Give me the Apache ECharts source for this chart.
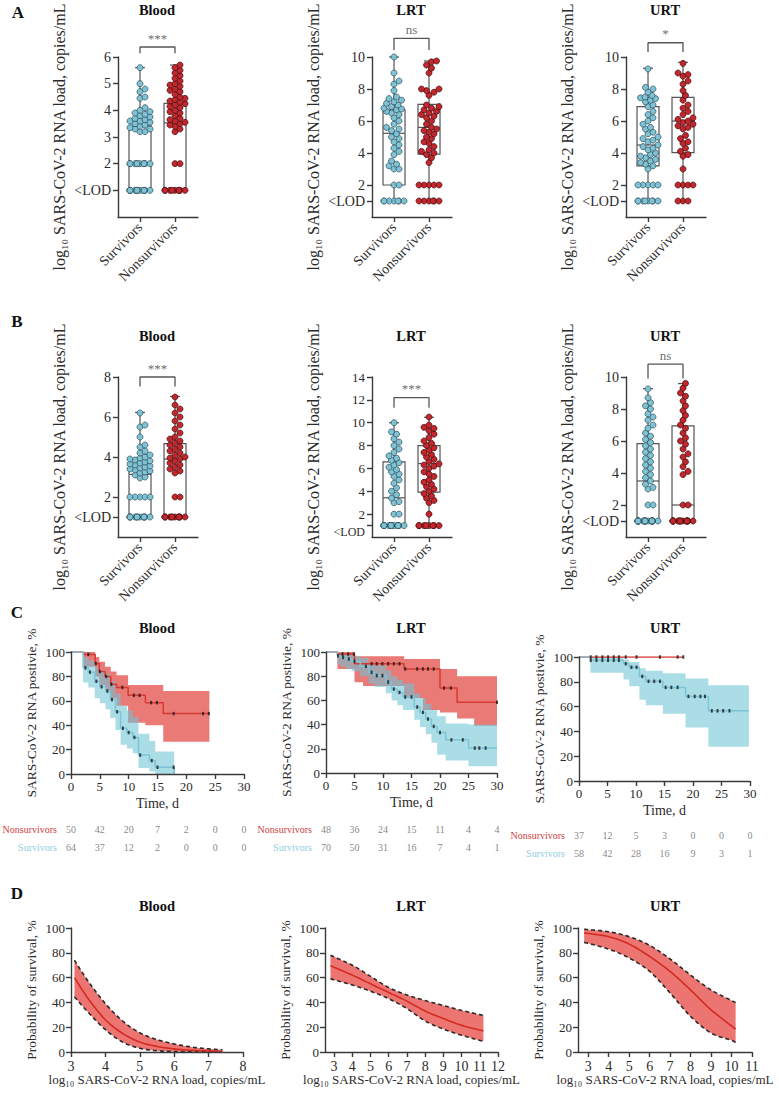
<!DOCTYPE html>
<html>
<head>
<meta charset="UTF-8">
<title>SARS-CoV-2 RNA load and survival</title>
<script src="https://cdn.jsdelivr.net/npm/echarts@6/dist/echarts.min.js"></script>
<style type="text/css">
body{margin:0;padding:0;background:#fff;}
#main{width:779px;height:1095px;}
</style>
</head>
<body>
<div id="main"></div>
<script type="text/javascript">
// ---------- data ----------
var groups = ['Survivors', 'Nonsurvivors'];

// panel A, first sample (log10 load, 1 = <LOD)
var aBloodSurv = [5.6, 5.0, 4.8, 4.7, 4.5, 4.45, 4.1, 4.0, 3.95, 3.9, 3.85, 3.8, 3.75, 3.7, 3.65, 3.6, 3.6, 3.55, 3.5, 3.45, 3.4, 3.35, 3.3, 3.3, 3.2, 3.2, 2, 2, 2, 2, 2, 2, 2, 2, 2, 2, 1, 1, 1, 1, 1, 1, 1, 1, 1, 1, 1, 1, 1, 1];
var aBloodNon = [5.7, 5.6, 5.5, 5.4, 5.3, 5.2, 5.1, 5.0, 4.95, 4.9, 4.8, 4.75, 4.7, 4.6, 4.5, 4.45, 4.4, 4.35, 4.3, 4.25, 4.2, 4.15, 4.1, 4.0, 3.95, 3.9, 3.8, 3.7, 3.65, 3.6, 3.55, 3.5, 3.45, 3.4, 3.3, 3.2, 2, 2, 1, 1, 1, 1, 1, 1, 1, 1, 1];
var aLrtSurv = [10, 9, 8.5, 8.3, 7.9, 7.5, 7.4, 7.3, 7.2, 7.1, 7.0, 6.9, 6.8, 6.75, 6.7, 6.6, 6.5, 6.4, 6.2, 6.0, 5.8, 5.6, 5.5, 5.4, 5.2, 5.0, 4.9, 4.7, 4.5, 4.3, 4.1, 3.9, 3.5, 3.3, 3.2, 3.0, 3.0, 2, 2, 1, 1, 1, 1, 1, 1, 1];
var aLrtNon = [9.75, 9.7, 9.5, 9.3, 9.0, 8.0, 8.0, 7.9, 7.8, 7.6, 7.0, 6.9, 6.8, 6.7, 6.6, 6.5, 6.4, 6.3, 6.2, 6.0, 5.8, 5.6, 5.5, 5.4, 5.3, 5.2, 5.0, 4.9, 4.7, 4.6, 4.4, 4.2, 4.1, 4.0, 3.9, 3.7, 3.4, 2, 2, 2, 2, 2, 1, 1, 1, 1, 1, 1];
var aUrtSurv = [9.25, 8.1, 8.0, 7.8, 7.6, 7.5, 7.45, 7.4, 7.3, 7.2, 7.0, 6.9, 6.6, 6.4, 6.2, 6.0, 5.8, 5.6, 5.5, 5.3, 5.2, 5.0, 4.9, 4.8, 4.7, 4.5, 4.4, 4.3, 4.2, 4.0, 3.9, 3.8, 3.7, 3.6, 3.5, 3.4, 3.3, 3.2, 3.0, 2, 2, 2, 2, 2, 1, 1, 1, 1, 1, 1, 1, 1];
var aUrtNon = [9.6, 9.0, 8.9, 8.8, 8.5, 8.3, 7.9, 7.6, 7.3, 7.0, 6.8, 6.6, 6.4, 6.2, 6.1, 6.0, 5.9, 5.8, 5.7, 5.6, 5.5, 5.1, 4.9, 4.7, 4.6, 4.3, 4.1, 3.9, 3.8, 3.0, 2, 2, 2, 2, 1, 1, 1];
// box stats: min, q1, median, q3, max
var aBloodBoxSurv = [1, 1, 2, 3.42, 5.6], aBloodBoxNon = [1, 1, 3.53, 4.26, 5.7];
var aLrtBoxSurv = [1, 2, 5.23, 6.7, 10], aLrtBoxNon = [1, 3.93, 5.6, 7.04, 9.75];
var aUrtBoxSurv = [1, 3.19, 4.5, 6.9, 9.3], aUrtBoxNon = [1, 4.02, 6.0, 7.48, 9.67];

// panel B, peak load
var bBloodSurv = [6.2, 5.6, 5.5, 5.0, 4.6, 4.5, 4.3, 4.2, 4.1, 4.0, 3.95, 3.9, 3.85, 3.8, 3.75, 3.7, 3.65, 3.6, 3.55, 3.5, 3.45, 3.4, 3.35, 3.3, 3.25, 3.2, 3.1, 3.0, 2.95, 2, 2, 2, 2, 2, 1, 1, 1, 1, 1, 1, 1, 1, 1, 1, 1, 1, 1, 1];
var bBloodNon = [7.0, 6.6, 6.4, 6.2, 6.0, 5.8, 5.6, 5.4, 5.2, 5.0, 4.9, 4.8, 4.7, 4.6, 4.5, 4.4, 4.3, 4.2, 4.1, 4.0, 3.95, 3.9, 3.8, 3.7, 3.6, 3.5, 3.4, 3.3, 3.2, 2, 2, 1, 1, 1, 1, 1, 1, 1, 1, 1, 1, 1, 1];
var bLrtSurv = [10, 9.2, 9.0, 8.6, 8.3, 8.0, 7.7, 7.4, 7.1, 6.9, 6.7, 6.5, 6.3, 6.1, 5.9, 5.7, 5.5, 5.3, 5.0, 4.7, 4.3, 4.0, 3.7, 3.4, 3.1, 3.0, 2, 2, 1, 1, 1, 1, 1, 1, 1, 1, 1, 1, 1, 1, 1, 1, 1, 1, 1, 1, 1, 1];
var bLrtNon = [10.5, 9.8, 9.6, 9.5, 9.3, 9.0, 8.7, 8.4, 8.2, 8.0, 7.8, 7.6, 7.4, 7.2, 7.0, 6.8, 6.6, 6.4, 6.3, 6.2, 6.0, 5.7, 5.5, 5.3, 5.0, 4.8, 4.6, 4.4, 4.2, 4.0, 3.8, 3.6, 3.4, 3.2, 3.0, 2, 1, 1, 1, 1, 1, 1, 1, 1];
var bUrtSurv = [9.25, 8.7, 8.4, 8.2, 8.0, 7.7, 7.5, 7.3, 7.0, 6.8, 6.5, 6.3, 6.1, 5.9, 5.7, 5.5, 5.3, 5.1, 4.9, 4.7, 4.5, 4.3, 4.1, 3.9, 3.7, 3.5, 3.3, 3.1, 3.0, 2, 2, 1, 1, 1, 1, 1, 1, 1, 1, 1, 1, 1, 1, 1, 1, 1, 1, 1, 1, 1, 1, 1, 1, 1, 1, 1];
var bUrtNon = [9.6, 9.3, 9.0, 8.8, 8.5, 8.2, 7.9, 7.6, 7.3, 7.0, 6.8, 6.5, 6.2, 6.0, 5.8, 5.5, 5.2, 5.0, 4.7, 4.4, 4.1, 3.9, 2, 2, 1, 1, 1, 1, 1, 1, 1, 1, 1, 1, 1, 1, 1, 1, 1, 1, 1, 1];
var bBloodBoxSurv = [1, 1, 3.13, 3.67, 6.23], bBloodBoxNon = [1, 1, 3.9, 4.67, 7.03];
var bLrtBoxSurv = [1, 1, 3.43, 6.58, 10], bLrtBoxNon = [1, 3.92, 6.43, 8.0, 10.47];
var bUrtBoxSurv = [1, 1, 3.5, 5.84, 9.27], bUrtBoxNon = [1, 1, 2.0, 6.94, 9.59];

// panel C, Kaplan-Meier (step start times, % positive, CI steps, censor times)
var cBloodNonT = [0, 2.2, 4.2, 4.9, 5.9, 6.9, 7.9, 9.9, 12.9, 16.0];
var cBloodNonS = [100, 98, 90.5, 84, 80, 73.5, 71, 64.5, 58.5, 49.5];
var cBloodNonBandT = [2.2, 4.2, 4.9, 5.9, 6.9, 7.9, 9.9, 12.9, 16.0];
var cBloodNonHi = [100, 96, 92, 88, 84, 81, 73, 73, 68];
var cBloodNonLo = [88, 80, 73, 68, 62, 56, 42, 40, 26.5];
var cBloodNonCens = [3.0, 4.3, 5.0, 6.1, 7.0, 8.9, 10.9, 11.9, 13.9, 14.9, 17.8, 22.9, 23.9];
var cBloodSurvT = [0, 2.1, 3.0, 4.1, 5.0, 6.0, 6.8, 7.7, 8.6, 9.7, 10.7, 11.7, 13.6, 14.6, 17.9];
var cBloodSurvS = [100, 87, 83.5, 76, 71.5, 68, 61, 51, 37.5, 34, 30, 15.5, 11, 5.5, 0];
var cBloodSurvBandT = [2.1, 3.0, 4.1, 5.0, 6.0, 6.8, 7.7, 8.6, 9.7, 10.7, 11.7, 13.6, 14.6];
var cBloodSurvHi = [96, 93, 88, 85, 82, 76, 66, 56, 52, 47, 33, 27, 18.5];
var cBloodSurvLo = [75, 71, 62, 58, 53, 46, 36, 24, 21, 17, 5, 2, 0];
var cBloodSurvCens = [2.5, 3.3, 4.4, 5.3, 6.3, 7.1, 8.0, 9.0, 10.0, 11.0, 12.0, 14.0, 15.0, 17.8];

var cLrtNonT = [0, 2.0, 5.0, 13.7, 20.0, 23.0];
var cLrtNonS = [100, 98.3, 90.3, 86, 70.2, 58.4];
var cLrtNonBandT = [2.0, 5.0, 6.5, 13.7, 17.0, 20.0, 23.0, 26.0];
var cLrtNonHi = [100, 96.4, 96.4, 94.2, 94.2, 86, 80, 80];
var cLrtNonLo = [86, 75, 72, 62, 52, 50, 45, 39];
var cLrtNonCens = [2.9, 3.9, 4.9, 8.0, 8.9, 9.9, 10.9, 11.9, 12.9, 13.9, 16.0, 17.0, 17.9, 18.9, 20.7, 21.9, 30];
var cLrtSurvT = [0, 2.0, 2.5, 3.5, 4.5, 6.0, 7.5, 8.5, 10.5, 11.5, 12.5, 13.5, 15.5, 16.5, 17.5, 18.5, 19.5, 21.0, 25.0];
var cLrtSurvS = [100, 96.9, 95.6, 94.2, 92.3, 88.2, 83.2, 80.5, 75.2, 69.4, 66.6, 62.8, 54.5, 50.1, 44.6, 38.5, 33.5, 27.4, 20.6];
var cLrtSurvBandT = [2.0, 2.5, 3.5, 4.5, 6.0, 7.5, 8.5, 10.5, 11.5, 12.5, 13.5, 15.5, 16.5, 17.5, 18.5, 19.5, 21.0, 25.0];
var cLrtSurvHi = [99, 99, 98, 97, 95, 91, 89, 85, 80, 77, 74, 66, 62, 57, 52, 47, 41, 40];
var cLrtSurvLo = [90, 88, 86, 84, 80, 74, 71, 66, 60, 56, 52, 44, 38, 32, 25, 15, 10.4, 5.5];
var cLrtSurvCens = [2.1, 3.0, 4.0, 5.0, 7.0, 8.0, 8.9, 9.9, 10.9, 11.9, 12.9, 13.9, 15.0, 16.0, 17.0, 17.9, 18.9, 20.0, 22.0, 24.0, 26.1, 26.9, 28.0];

var cUrtNonT = [0];
var cUrtNonS = [100];
var cUrtNonCens = [2.06, 3.06, 4.1, 5.1, 6.1, 7.0, 8.2, 10.1, 14.2, 17.3, 18.3];
var cUrtSurvT = [0, 2.0, 7.8, 8.8, 10.6, 11.7, 14.7, 18.7, 22.7];
var cUrtSurvS = [100, 97.3, 94.6, 91.7, 84.4, 80.4, 75.5, 68.2, 56.6];
var cUrtSurvBandT = [2.0, 7.8, 8.8, 10.6, 11.7, 14.7, 18.7, 22.7];
var cUrtSurvHi = [100, 98, 96, 91, 89, 86.8, 82.7, 77.3];
var cUrtSurvLo = [87.3, 81.9, 76.4, 65.6, 61, 54.2, 43.1, 27.6];
var cUrtSurvCens = [2.06, 3.06, 4.1, 5.1, 6.1, 7.0, 8.2, 9.2, 10.1, 11.1, 12.2, 13.2, 14.2, 15.2, 16.2, 17.3, 19.2, 20.3, 21.3, 22.1, 23.3, 24.3, 25.3, 26.4];

// numbers at risk
var riskT = [0, 5, 10, 15, 20, 25, 30];
var riskBloodNon = [50, 42, 20, 7, 2, 0, 0], riskBloodSurv = [64, 37, 12, 2, 0, 0, 0];
var riskLrtNon = [48, 36, 24, 15, 11, 4, 4], riskLrtSurv = [70, 50, 31, 16, 7, 4, 1];
var riskUrtNon = [37, 12, 5, 3, 0, 0, 0], riskUrtSurv = [58, 42, 28, 16, 9, 3, 1];

// panel D, probability of survival vs load
var dBloodX = [3.1, 3.5, 4, 4.5, 5, 5.5, 6, 6.5, 7, 7.4];
var dBloodMean = [60, 43, 26, 15, 8, 4.5, 2.5, 1.4, 0.8, 0.5];
var dBloodHi = [74, 57, 39, 25, 15.5, 10, 6.5, 4, 2.5, 1.8];
var dBloodLo = [44.5, 32, 18, 8, 3, 1, 0.4, 0.2, 0.1, 0.05];
var dLrtX = [2.8, 4, 5, 6, 7, 8, 9, 10, 11.2];
var dLrtMean = [69.5, 62, 55, 48, 41, 33, 27, 21.5, 17];
var dLrtHi = [78, 70, 61, 52, 46, 41.5, 37.5, 33.5, 29.5];
var dLrtLo = [59, 54, 49, 43, 35, 25, 18.5, 13.5, 8.6];
var dUrtX = [2.8, 4, 5, 6, 7, 8, 9, 10, 10.2];
var dUrtMean = [96, 93, 87, 77, 65, 50, 34, 21, 18.5];
var dUrtHi = [99, 97, 93, 86, 75, 62, 50, 41.5, 40];
var dUrtLo = [88.4, 83, 75.8, 65, 47.6, 28.7, 15.3, 9.4, 7.5];

// ---------- styling ----------
var FONT = "'Liberation Serif', 'DejaVu Serif', serif";
var AXC = '#3a3a3a';
var TXT = '#2b2b2b';
var DOT_S = '#7dc3d5', DOT_S_EDGE = '#2c4b55';
var DOT_N = '#c1272d', DOT_N_EDGE = '#3d0a0c';
var LINE_N = '#d83a32', LINE_S = '#7cc4d8';
var BAND_N = 'rgba(228,84,80,0.78)', BAND_S = 'rgba(110,196,214,0.58)';
var TAB_N = '#cf4040', TAB_S = '#8ecde0';
var LOGNAME = 'log\u2081\u2080 SARS-CoV-2 RNA load, copies/mL';

var grid = [], xAxis = [], yAxis = [], series = [], graphic = [];

function addText(x, y, text, size, bold) {
  graphic.push({type: 'text', x: x, y: y, silent: true,
    style: {text: text, fontSize: size, fontWeight: bold ? 'bold' : 'normal', fontFamily: FONT, fill: '#111',
      align: 'center', verticalAlign: 'middle', textAlign: 'center', textVerticalAlign: 'middle'}});
}

function baseAxis(extra) {
  var a = {
    axisLine: {show: true, onZero: false, lineStyle: {color: AXC, width: 1.4}},
    axisTick: {show: true, length: 5, lineStyle: {color: AXC, width: 1.4}},
    axisLabel: {color: TXT, fontFamily: FONT, fontSize: 13, hideOverlap: false},
    splitLine: {show: false},
    nameMoveOverlap: false,
    nameTextStyle: {color: TXT, fontFamily: FONT, fontSize: 13.5},
    z: 5
  };
  for (var k in extra) {
    if (a[k] && typeof a[k] === 'object' && typeof extra[k] === 'object' && !Array.isArray(extra[k])) Object.assign(a[k], extra[k]);
    else a[k] = extra[k];
  }
  return a;
}

// beeswarm: spread equal-ish values sideways so dots do not pile up
function swarm(vals, center, pxX, pxY) {
  var placed = [], out = [];
  vals.slice().sort(function(a, b){ return a - b; }).forEach(function(v) {
    var off = null;
    for (var k = 0; k < 40; k++) {
      var o = (k % 2 ? 1 : -1) * Math.ceil(k / 2) * 2.5;
      if (Math.abs(o) > 11) break;
      var ok = placed.every(function(p){ return Math.sqrt(Math.pow(p[0] - o, 2) + Math.pow((p[1] - v) * pxY, 2)) >= 5; });
      if (ok) { off = o; break; }
    }
    if (off === null) off = ((placed.length * 7) % 21) - 10;
    placed.push([off, v]);
    out.push([center + off / pxX, v]);
  });
  return out;
}

function renderBox(params, api) {
  var x = api.value(0);
  var pMin = api.coord([x, api.value(1)]), pQ1 = api.coord([x, api.value(2)]);
  var pMd = api.coord([x, api.value(3)]), pQ3 = api.coord([x, api.value(4)]), pMx = api.coord([x, api.value(5)]);
  var cx = pMd[0], hw = 11, cw = 5;
  var st = {stroke: '#555', lineWidth: 1.2};
  return {type: 'group', children: [
    {type: 'rect', shape: {x: cx - hw, y: pQ3[1], width: 2 * hw, height: pQ1[1] - pQ3[1]}, style: {fill: '#fff', stroke: '#555', lineWidth: 1.2}},
    {type: 'line', shape: {x1: cx - hw, y1: pMd[1], x2: cx + hw, y2: pMd[1]}, style: st},
    {type: 'line', shape: {x1: cx, y1: pQ3[1], x2: cx, y2: pMx[1]}, style: st},
    {type: 'line', shape: {x1: cx, y1: pQ1[1], x2: cx, y2: pMin[1]}, style: st},
    {type: 'line', shape: {x1: cx - cw, y1: pMx[1], x2: cx + cw, y2: pMx[1]}, style: st},
    {type: 'line', shape: {x1: cx - cw, y1: pMin[1], x2: cx + cw, y2: pMin[1]}, style: st}
  ]};
}

function boxPanel(p) {
  var gi = grid.length, xi = xAxis.length, yi = yAxis.length;
  // on the tall LRT axis "2" and "<LOD" sit only 11 px apart: hang <LOD just under its tick there
  var fs = p.tight ? 13 : 14;
  grid.push({left: p.left, top: p.top, width: 80, height: 160, outerBoundsMode: 'none'});
  xAxis.push(baseAxis({gridIndex: gi, type: 'value', min: 0.371, max: 2.657,
    axisTick: {customValues: [1, 2]},
    axisLabel: {customValues: [1, 2], rotate: 45, fontSize: 14, margin: 8, formatter: function(v){ return groups[Math.round(v) - 1]; }}}));
  var numTicks = p.ticks.filter(function(v){ return v !== 1; });
  yAxis.push(baseAxis({gridIndex: gi, type: 'value', min: 0, max: p.yMax,
    axisTick: {customValues: numTicks},
    axisLabel: {customValues: numTicks, fontSize: fs, margin: 7, showMinLabel: true, showMaxLabel: true},
    name: LOGNAME, nameLocation: 'middle', nameRotate: 90, nameGap: 51, nameTextStyle: {fontSize: 16}}));
  // second left axis in the same grid carries only the <LOD tick, so it never competes with "2"
  yAxis.push(baseAxis({gridIndex: gi, type: 'value', position: 'left', offset: 0, min: 0, max: p.yMax,
    axisLine: {show: false},
    axisTick: {customValues: [1]},
    axisLabel: {customValues: [1], fontSize: p.tight ? 12 : 14, verticalAlign: p.tight ? 'top' : 'middle',
      margin: 7, showMinLabel: true, formatter: function(){ return '<LOD'; }}}));
  series.push({type: 'custom', xAxisIndex: xi, yAxisIndex: yi, renderItem: renderBox, silent: true, z: 2,
    data: [[1].concat(p.boxS), [2].concat(p.boxN)]});
  var sy = 160 / p.yMax;
  series.push({type: 'scatter', xAxisIndex: xi, yAxisIndex: yi, data: swarm(p.surv, 1, 35, sy), symbolSize: 6, silent: true, z: 3,
    itemStyle: {color: DOT_S, borderColor: DOT_S_EDGE, borderWidth: 0.7, opacity: 1}});
  series.push({type: 'scatter', xAxisIndex: xi, yAxisIndex: yi, data: swarm(p.non, 2, 35, sy), symbolSize: 6, silent: true, z: 3,
    itemStyle: {color: DOT_N, borderColor: DOT_N_EDGE, borderWidth: 0.7, opacity: 1}});
  series.push({type: 'line', xAxisIndex: xi, yAxisIndex: yi, symbol: 'none', clip: false, silent: true, z: 3,
    lineStyle: {color: '#555', width: 1.3},
    data: [[1, p.bracket[0]], [1, p.bracket[1]], [2, p.bracket[1]], [2, p.bracket[0]]]});
  series.push({type: 'scatter', xAxisIndex: xi, yAxisIndex: yi, data: [[1.5, p.bracket[1]]], symbolSize: 1, clip: false, silent: true,
    itemStyle: {color: 'rgba(0,0,0,0)'},
    label: {show: true, position: 'top', distance: 2, formatter: p.sig, fontFamily: FONT, fontSize: 13, color: '#444'}});
}

function stepAt(T, S, t) {
  var v = S[0];
  for (var i = 0; i < T.length; i++) if (T[i] <= t) v = S[i];
  return v;
}

function bandSeries(xi, yi, c, color) {
  return {type: 'custom', xAxisIndex: xi, yAxisIndex: yi, silent: true, z: 2,
    data: [[c.bandT[0], c.bandLo[0]]],
    renderItem: function(params, api) {
      var up = [], dn = [];
      for (var i = 0; i < c.bandT.length; i++) {
        var t1 = i + 1 < c.bandT.length ? c.bandT[i + 1] : c.end;
        up.push(api.coord([c.bandT[i], c.bandHi[i]]), api.coord([t1, c.bandHi[i]]));
        dn.push(api.coord([c.bandT[i], c.bandLo[i]]), api.coord([t1, c.bandLo[i]]));
      }
      return {type: 'polygon', shape: {points: up.concat(dn.reverse())}, style: {fill: color}};
    }};
}

function stepLine(xi, yi, c, color) {
  var d = c.T.map(function(t, i){ return [t, c.S[i]]; });
  if (c.end > c.T[c.T.length - 1]) d.push([c.end, c.S[c.S.length - 1]]);
  return {type: 'line', xAxisIndex: xi, yAxisIndex: yi, step: 'end', data: d, symbol: 'none', silent: true, z: 3,
    lineStyle: {color: color, width: 1.5}};
}

function censorMarks(xi, yi, c) {
  return {type: 'scatter', xAxisIndex: xi, yAxisIndex: yi, silent: true, z: 4, symbol: 'rect', symbolSize: [2, 3.5],
    itemStyle: {color: '#1a1a1a'},
    data: c.cens.map(function(t){ return [t, stepAt(c.T, c.S, t)]; })};
}

function kmPanel(p) {
  var gi = grid.length, xi = xAxis.length, yi = yAxis.length;
  grid.push({left: p.left, top: p.top, width: p.width, height: p.height, outerBoundsMode: 'none'});
  xAxis.push(baseAxis({gridIndex: gi, type: 'value', min: 0, max: 30, interval: 5, axisLabel: {margin: 6},
    name: 'Time, d', nameLocation: 'middle', nameGap: 22, nameTextStyle: {fontSize: 14}}));
  yAxis.push(baseAxis({gridIndex: gi, type: 'value', min: 0, max: 100, interval: 20, axisLabel: {margin: 6},
    name: 'SARS-CoV-2 RNA postivie, %', nameLocation: 'middle', nameRotate: 90, nameGap: 33}));
  if (p.non.bandT) series.push(bandSeries(xi, yi, p.non, BAND_N));
  if (p.surv.bandT) series.push(bandSeries(xi, yi, p.surv, BAND_S));
  series.push(stepLine(xi, yi, p.non, LINE_N));
  series.push(stepLine(xi, yi, p.surv, LINE_S));
  series.push(censorMarks(xi, yi, p.non));
  series.push(censorMarks(xi, yi, p.surv));

  // numbers at risk
  var ti = grid.length, txi = xAxis.length, tyi = yAxis.length;
  grid.push({left: p.left, top: p.tableTop, width: p.width, height: 36, outerBoundsMode: 'none'});
  xAxis.push({gridIndex: ti, type: 'value', min: 0, max: 30, show: false});
  yAxis.push({gridIndex: ti, type: 'category', inverse: true, data: ['Nonsurvivors', 'Survivors'],
    axisLine: {show: false}, axisTick: {show: false}, splitLine: {show: false},
    axisLabel: {fontFamily: FONT, fontSize: 10, margin: 14, color: function(v){ return v === 'Nonsurvivors' ? TAB_N : TAB_S; }}});
  var rows = riskT.map(function(t, i){ return [t, 'Nonsurvivors', p.riskNon[i]]; })
    .concat(riskT.map(function(t, i){ return [t, 'Survivors', p.riskSurv[i]]; }));
  series.push({type: 'scatter', xAxisIndex: txi, yAxisIndex: tyi, data: rows, symbolSize: 1, silent: true,
    itemStyle: {color: 'rgba(0,0,0,0)'},
    label: {show: true, position: 'inside', formatter: function(q){ return String(q.value[2]); },
      fontFamily: FONT, fontSize: 10, color: '#666'}});
}

// smooth curve through pixel points (Catmull-Rom), used only for drawing
function catmull(pts, n) {
  var out = [];
  for (var i = 0; i < pts.length - 1; i++) {
    var p0 = pts[i - 1] || pts[i], p1 = pts[i], p2 = pts[i + 1], p3 = pts[i + 2] || pts[i + 1];
    for (var k = 0; k < n; k++) {
      var t = k / n, t2 = t * t, t3 = t2 * t;
      out.push([0, 1].map(function(d) {
        return 0.5 * ((2 * p1[d]) + (-p0[d] + p2[d]) * t + (2 * p0[d] - 5 * p1[d] + 4 * p2[d] - p3[d]) * t2 + (-p0[d] + 3 * p1[d] - 3 * p2[d] + p3[d]) * t3);
      }));
    }
  }
  out.push(pts[pts.length - 1]);
  return out;
}

function logitPanel(p) {
  var gi = grid.length, xi = xAxis.length, yi = yAxis.length;
  grid.push({left: p.left, top: p.top, width: p.width, height: p.height, outerBoundsMode: 'none'});
  xAxis.push(baseAxis({gridIndex: gi, type: 'value', min: p.xMin, max: p.xMax,
    axisTick: {customValues: p.xTicks}, axisLabel: {customValues: p.xTicks, fontSize: 14, margin: 7},
    name: LOGNAME, nameLocation: 'middle', nameGap: 21, nameTextStyle: {fontSize: 13}}));
  yAxis.push(baseAxis({gridIndex: gi, type: 'value', min: 0, max: 100, interval: 20, axisLabel: {margin: 6},
    name: 'Probability of survival, %', nameLocation: 'middle', nameRotate: 90, nameGap: 33}));
  series.push({type: 'custom', xAxisIndex: xi, yAxisIndex: yi, silent: true, z: 2,
    data: [[p.x[0], p.mean[0]]],
    renderItem: function(params, api) {
      var hi = catmull(p.x.map(function(v, i){ return api.coord([v, p.hi[i]]); }), 12);
      var lo = catmull(p.x.map(function(v, i){ return api.coord([v, p.lo[i]]); }), 12);
      var mean = catmull(p.x.map(function(v, i){ return api.coord([v, p.mean[i]]); }), 12);
      var dash = {fill: null, stroke: '#2a2a2a', lineWidth: 1.6, lineDash: [4, 3]};
      return {type: 'group', children: [
        {type: 'polygon', shape: {points: hi.concat(lo.slice().reverse())}, style: {fill: '#ec7571'}},
        {type: 'polyline', shape: {points: hi}, style: dash},
        {type: 'polyline', shape: {points: lo}, style: dash},
        {type: 'polyline', shape: {points: mean}, style: {fill: null, stroke: '#d42a22', lineWidth: 1.6}}
      ]};
    }});
}

// ---------- panels ----------
boxPanel({left: 118, top: 57, yMax: 6, ticks: [1, 2, 3, 4, 5, 6], surv: aBloodSurv, non: aBloodNon, boxS: aBloodBoxSurv, boxN: aBloodBoxNon, bracket: [6.14, 6.375], sig: '***'});
boxPanel({left: 372, top: 57, yMax: 10, ticks: [1, 2, 4, 6, 8, 10], surv: aLrtSurv, non: aLrtNon, boxS: aLrtBoxSurv, boxN: aLrtBoxNon, bracket: [10.44, 11.17], sig: 'ns'});
boxPanel({left: 626, top: 57, yMax: 10, ticks: [1, 2, 4, 6, 8, 10], surv: aUrtSurv, non: aUrtNon, boxS: aUrtBoxSurv, boxN: aUrtBoxNon, bracket: [10.31, 10.89], sig: '*'});
boxPanel({left: 118, top: 377, yMax: 8, ticks: [1, 2, 4, 6, 8], surv: bBloodSurv, non: bBloodNon, boxS: bBloodBoxSurv, boxN: bBloodBoxNon, bracket: [7.53, 8.0], sig: '***'});
boxPanel({left: 372, top: 377, yMax: 14, ticks: [1, 2, 4, 6, 8, 10, 12, 14], surv: bLrtSurv, non: bLrtNon, boxS: bLrtBoxSurv, boxN: bLrtBoxNon, bracket: [11.3, 12.2], sig: '***', tight: true});
boxPanel({left: 626, top: 377, yMax: 10, ticks: [1, 2, 4, 6, 8, 10], surv: bUrtSurv, non: bUrtNon, boxS: bUrtBoxSurv, boxN: bUrtBoxNon, bracket: [9.9, 10.8], sig: 'ns'});

kmPanel({left: 71, top: 652, width: 173, height: 122, tableTop: 820, riskNon: riskBloodNon, riskSurv: riskBloodSurv,
  non: {T: cBloodNonT, S: cBloodNonS, end: 24, bandT: cBloodNonBandT, bandHi: cBloodNonHi, bandLo: cBloodNonLo, cens: cBloodNonCens},
  surv: {T: cBloodSurvT, S: cBloodSurvS, end: 17.9, bandT: cBloodSurvBandT, bandHi: cBloodSurvHi, bandLo: cBloodSurvLo, cens: cBloodSurvCens}});
kmPanel({left: 326, top: 652, width: 171, height: 121, tableTop: 820, riskNon: riskLrtNon, riskSurv: riskLrtSurv,
  non: {T: cLrtNonT, S: cLrtNonS, end: 30, bandT: cLrtNonBandT, bandHi: cLrtNonHi, bandLo: cLrtNonLo, cens: cLrtNonCens},
  surv: {T: cLrtSurvT, S: cLrtSurvS, end: 30, bandT: cLrtSurvBandT, bandHi: cLrtSurvHi, bandLo: cLrtSurvLo, cens: cLrtSurvCens}});
kmPanel({left: 579, top: 657, width: 171, height: 124, tableTop: 826, riskNon: riskUrtNon, riskSurv: riskUrtSurv,
  non: {T: cUrtNonT, S: cUrtNonS, end: 18.3, cens: cUrtNonCens},
  surv: {T: cUrtSurvT, S: cUrtSurvS, end: 29.8, bandT: cUrtSurvBandT, bandHi: cUrtSurvHi, bandLo: cUrtSurvLo, cens: cUrtSurvCens}});

logitPanel({left: 71, top: 928, width: 172, height: 124, xMin: 3, xMax: 8, xTicks: [3, 4, 5, 6, 7, 8], x: dBloodX, mean: dBloodMean, hi: dBloodHi, lo: dBloodLo});
logitPanel({left: 325, top: 928, width: 173, height: 124, xMin: 2.5, xMax: 12, xTicks: [3, 4, 5, 6, 7, 8, 9, 10, 11, 12], x: dLrtX, mean: dLrtMean, hi: dLrtHi, lo: dLrtLo});
logitPanel({left: 578, top: 928, width: 174, height: 124, xMin: 2.5, xMax: 11, xTicks: [3, 4, 5, 6, 7, 8, 9, 10, 11], x: dUrtX, mean: dUrtMean, hi: dUrtHi, lo: dUrtLo});

// titles and panel letters
addText(18, 12, 'A', 17, true);
addText(17, 321, 'B', 17, true);
addText(17, 612, 'C', 17, true);
addText(17, 893, 'D', 17, true);
[[10], [336], [628], [906]].forEach(function(r) {
  addText(157, r[0], 'Blood', 14.5, true);
  addText(411, r[0], 'LRT', 14.5, true);
  addText(665, r[0], 'URT', 14.5, true);
});

var myChart = echarts.init(document.getElementById('main'), null, {renderer: 'svg'});
myChart.setOption({
  animation: false,
  backgroundColor: '#fff',
  textStyle: {fontFamily: FONT},
  grid: grid,
  xAxis: xAxis,
  yAxis: yAxis,
  series: series,
  graphic: graphic
});
</script>
</body>
</html>
